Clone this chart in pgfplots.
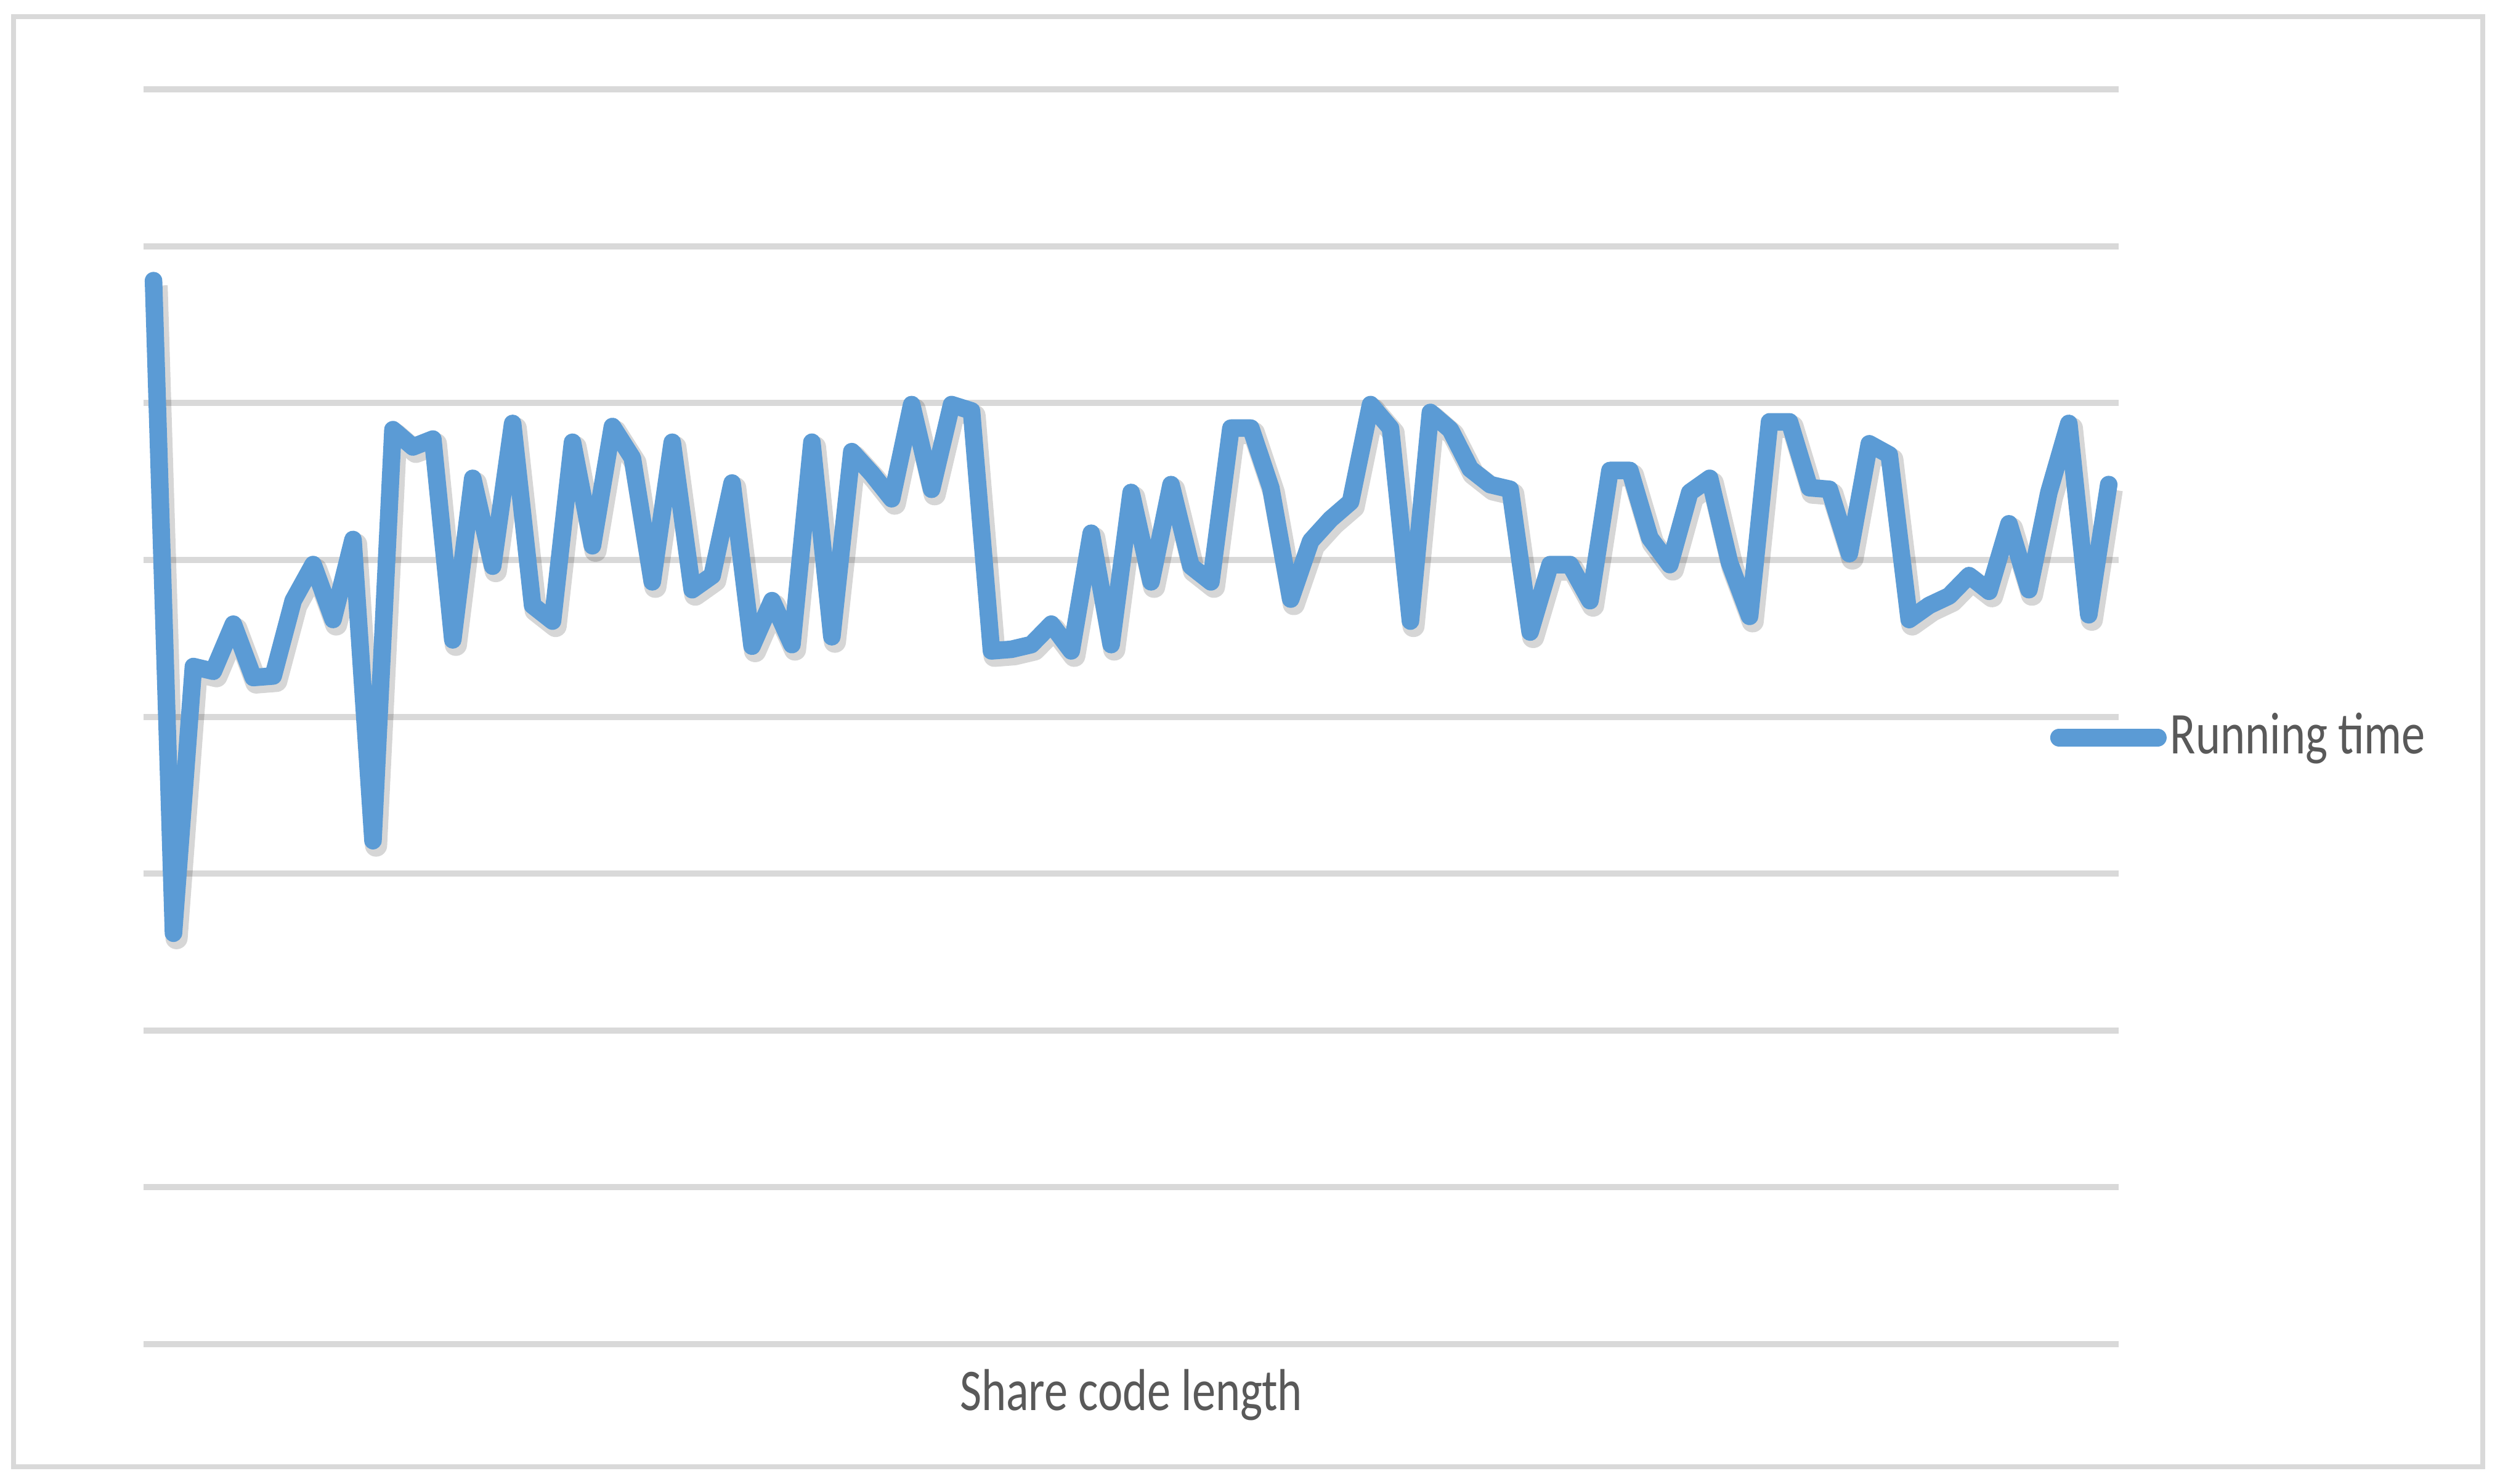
\documentclass[border=0pt]{standalone}
\usepackage{fontspec}
\setmainfont[FakeStretch=0.795]{Carlito}
\usepackage{pgfplots}
\pgfplotsset{compat=1.18}
\definecolor{lineblue}{HTML}{5B9BD5}
\definecolor{gridgray}{HTML}{D9D9D9}
\definecolor{textgray}{HTML}{595959}
\pgfplotstableread{
i v
1 6.78
2 2.62
3 4.32
4 4.29
5 4.59
6 4.25
7 4.26
8 4.74
9 4.97
10 4.62
11 5.13
12 3.21
13 5.83
14 5.72
15 5.77
16 4.49
17 5.52
18 4.96
19 5.87
20 4.71
21 4.61
22 5.75
23 5.09
24 5.85
25 5.65
26 4.86
27 5.75
28 4.81
29 4.90
30 5.49
31 4.45
32 4.74
33 4.46
34 5.75
35 4.51
36 5.69
37 5.55
38 5.39
39 5.99
40 5.45
41 5.99
42 5.95
43 4.42
44 4.43
45 4.46
46 4.59
47 4.42
48 5.17
49 4.46
50 5.43
51 4.86
52 5.48
53 4.96
54 4.86
55 5.84
56 5.84
57 5.46
58 4.75
59 5.12
60 5.26
61 5.37
62 5.99
63 5.84
64 4.61
65 5.94
66 5.83
67 5.58
68 5.48
69 5.45
70 4.54
71 4.97
72 4.97
73 4.74
74 5.57
75 5.57
76 5.14
77 4.97
78 5.43
79 5.52
80 4.98
81 4.64
82 5.88
83 5.88
84 5.46
85 5.45
86 5.04
87 5.74
88 5.67
89 4.62
90 4.71
91 4.77
92 4.90
93 4.80
94 5.23
95 4.81
96 5.43
97 5.87
98 4.65
99 5.48
}\runtime
\begin{document}
\begin{tikzpicture}
\path[use as bounding box] (0,0) rectangle (405.8pt,240.8pt);
\fill[white] (0,0) rectangle (405.8pt,240.8pt);
\draw[gridgray, line width=0.8pt] (2.2pt,2.7pt) rectangle (403pt,238.1pt);
\begin{axis}[
  at={(23.3pt,22.6pt)}, anchor=south west,
  scale only axis, width=320.6pt, height=203.7pt,
  xmin=0.5, xmax=99.5, ymin=0, ymax=8,
  axis line style={draw=none},
  xtick=\empty, ytick={0,1,...,8}, yticklabels={},
  major tick length=0pt,
  ymajorgrids, grid style={gridgray, line width=1pt},
  clip=false,
  xlabel={Share code length},
  xlabel style={at={(rel axis cs:0.5,0)}, anchor=base, yshift=-10.7pt,
    font=\fontsize{9.6}{11}\selectfont, text=textgray},
  legend style={at={(rel axis cs:0.9647,0.4834)}, anchor=west, draw=none, fill=none,
    inner sep=0pt, font=\fontsize{9.6}{11}\selectfont, text=textgray,
    nodes={inner sep=0pt}},
  legend cell align=left,
  legend image code/.code={\draw[line width=2.9pt, line cap=round, lineblue] (1.4pt,0pt) -- (17.4pt,0pt);},
]
\addplot[black, opacity=0.16, line width=3.6pt, line join=round, xshift=0.5pt, yshift=-0.8pt, forget plot] table[x=i, y=v] {\runtime};
\addplot[lineblue, line width=2.85pt, line join=round, line cap=round] table[x=i, y=v] {\runtime};
\addlegendentry{\hspace{0.6pt}Running time}
\end{axis}
\end{tikzpicture}
\end{document}
